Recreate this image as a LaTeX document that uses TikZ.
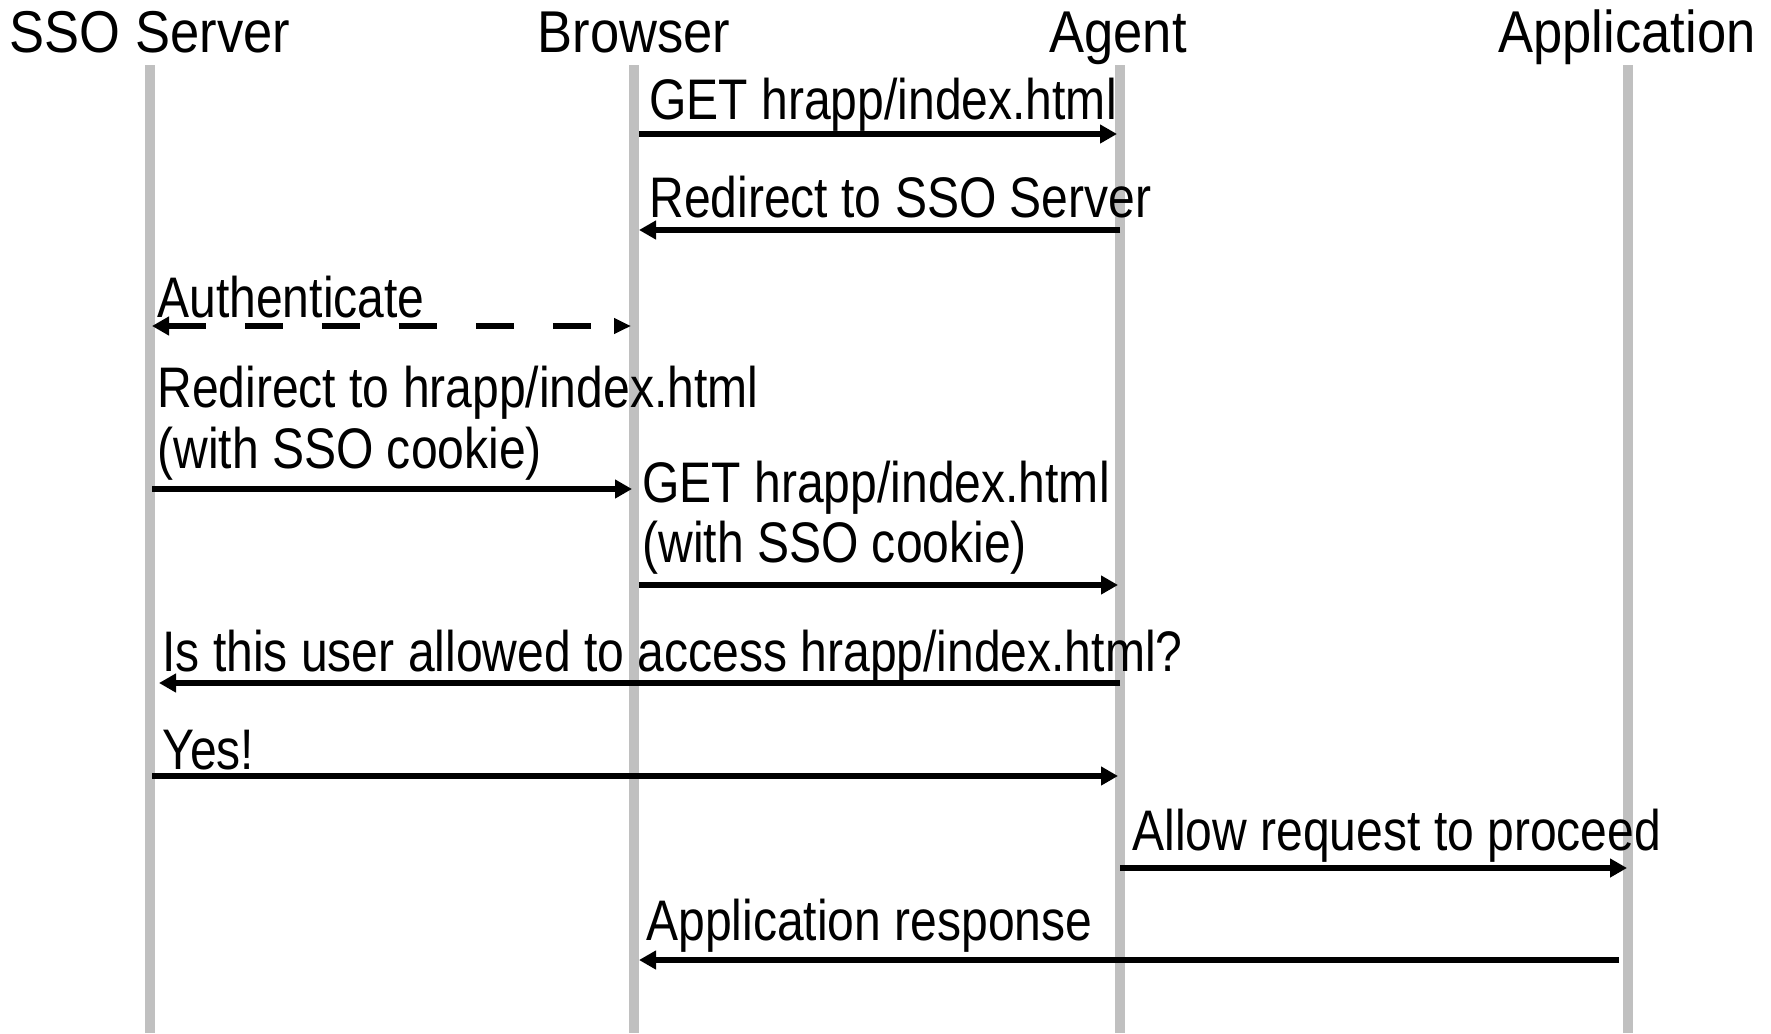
\documentclass[tikz,border=0pt]{standalone}
\usepackage{fontspec}
\newfontfamily\msgfont[FakeStretch=0.84]{Liberation Sans}
\newfontfamily\hdrfont[FakeStretch=0.89]{Liberation Sans}
\usetikzlibrary{arrows.meta}
\definecolor{lifegray}{HTML}{C0C0C0}
\tikzset{
  hdr/.style={font=\hdrfont\fontsize{29.5pt}{35pt}\selectfont, anchor=base, inner sep=0pt},
  lbl/.style={font=\msgfont\fontsize{28.6pt}{34pt}\selectfont, anchor=base west, inner sep=0pt},
  life/.style={draw=lifegray, line width=4.75pt},
  msg/.style={draw=black, line width=2.7pt, -{Triangle[length=8.5pt,width=9pt]}},
  dmsg/.style={draw=black, line width=2.7pt, dash pattern=on 19pt off 19.5pt,
    {Triangle[length=8.5pt,width=9pt]}-{Triangle[length=8.5pt,width=7.5pt]}},
}
\begin{document}
\begin{tikzpicture}[x=0.5pt,y=-0.5pt]
\useasboundingbox (0,0) rectangle (1771,1033);
% headers
\node[hdr] (sso) at (150,52) {SSO Server};
\node[hdr] (browser) at (634,52) {Browser};
\node[hdr] (agent) at (1118,52) {Agent};
\node[hdr] (app) at (1627,52) {Application};
% lifelines
\coordinate (ssoT) at (150,65);  \coordinate (ssoB) at (150,1033);
\coordinate (brT) at (634,65);   \coordinate (brB) at (634,1033);
\coordinate (agT) at (1120,65);  \coordinate (agB) at (1120,1033);
\coordinate (apT) at (1628,65);  \coordinate (apB) at (1628,1033);
\draw[life] (ssoT) -- (ssoB);
\draw[life] (brT) -- (brB);
\draw[life] (agT) -- (agB);
\draw[life] (apT) -- (apB);
% messages
\draw[msg, shorten <=2.5pt, shorten >=1.5pt] (brT |- 0,134) -- (agT |- 0,134);
\node[lbl] (m1) at (649,119) {GET hrapp/index.html};

\draw[msg, shorten >=2.5pt] (agT |- 0,230) -- (brT |- 0,230);
\node[lbl] (m2) at (649,217) {Redirect to SSO Server};

\draw[dmsg, shorten <=1pt, shorten >=1.5pt] (ssoT |- 0,326) -- (brT |- 0,326);
\node[lbl] (m3) at (157,317) {Authenticate};

\draw[msg, shorten <=1pt, shorten >=1pt] (ssoT |- 0,489) -- (brT |- 0,489);
\node[lbl] (m4a) at (157,407) {Redirect to hrapp/index.html};
\node[lbl] (m4b) at (157,468) {(with SSO cookie)};

\draw[msg, shorten <=2.5pt, shorten >=1pt] (brT |- 0,585) -- (agT |- 0,585);
\node[lbl] (m5a) at (642,502) {GET hrapp/index.html};
\node[lbl] (m5b) at (642,562) {(with SSO cookie)};

\draw[msg, shorten >=4.5pt] (agT |- 0,683) -- (ssoT |- 0,683);
\node[lbl] (m6) at (162,671) {Is this user allowed to access hrapp/index.html?};

\draw[msg, shorten <=1pt, shorten >=1pt] (ssoT |- 0,776) -- (agT |- 0,776);
\node[lbl] (m7) at (162,769) {Yes!};

\draw[msg, shorten >=0.5pt] (agT |- 0,868) -- (apT |- 0,868);
\node[lbl] (m8) at (1132,850) {Allow request to proceed};

\draw[msg, shorten <=4.5pt, shorten >=2.5pt] (apT |- 0,960) -- (brT |- 0,960);
\node[lbl] (m9) at (646,940) {Application response};
\end{tikzpicture}
\end{document}
